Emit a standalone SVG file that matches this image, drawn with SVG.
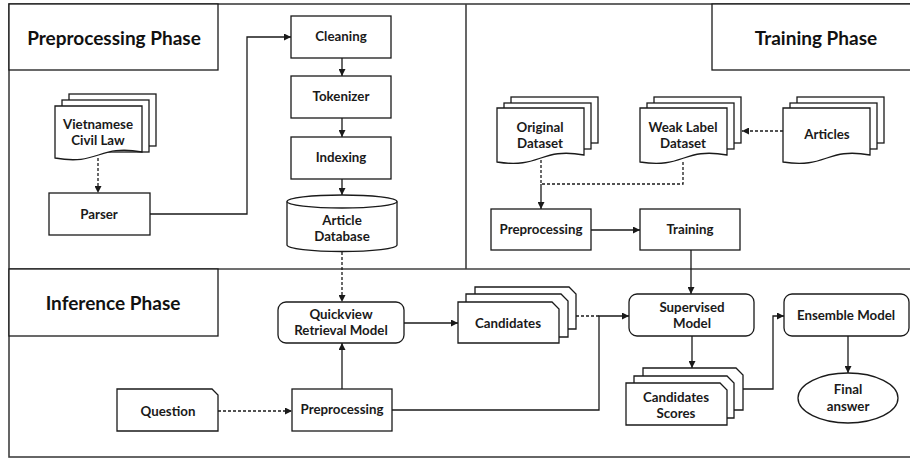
<svg xmlns="http://www.w3.org/2000/svg" width="910" height="459" viewBox="0 0 910 459">
<defs>
<marker id="ah" viewBox="0 0 10 10" refX="10" refY="5" markerWidth="7" markerHeight="7" markerUnits="userSpaceOnUse" orient="auto">
<path d="M0,0 L10,5 L0,10 Z" fill="#1a1a1a"/>
</marker>
<style>
.frame{fill:none;stroke:#404040;stroke-width:1.6}
.box{fill:#fff;stroke:#1a1a1a;stroke-width:1.3}
.t{font-family:Lato,"Open Sans",sans-serif;font-weight:700;font-size:13.3px;fill:#1a1a1a;text-anchor:middle}
.title{font-family:Lato,"Open Sans",sans-serif;font-weight:700;font-size:19px;fill:#111;text-anchor:middle}
.c{fill:none;stroke:#1a1a1a;stroke-width:1.3}
.d{fill:none;stroke:#1a1a1a;stroke-width:1.3;stroke-dasharray:3,2}
.a{marker-end:url(#ah)}
</style>
</defs>
<rect width="910" height="459" fill="#fff"/>
<g id="frames">
<rect class="frame" x="9" y="4" width="910" height="453"/>
<line class="frame" x1="9" y1="269" x2="910" y2="269"/>
<line class="frame" x1="466" y1="4" x2="466" y2="269"/>
</g>
<g id="title-preprocessing">
<rect class="box" x="9" y="4" width="209" height="66"/>
<text class="title" x="114" y="45">Preprocessing Phase</text>
</g>
<g id="title-training">
<rect class="box" x="712" y="4" width="210" height="66"/>
<text class="title" x="816" y="45">Training Phase</text>
</g>
<g id="title-inference">
<rect class="box" x="9" y="269" width="209" height="67"/>
<text class="title" x="113" y="310">Inference Phase</text>
</g>
<g id="connectors">
<path class="d a" d="M98,158 V193"/>
<path class="c a" d="M150,214 H247 V37 H291"/>
<path class="c a" d="M342,58 V76"/>
<path class="c a" d="M342,118 V137"/>
<path class="c a" d="M342,179 V195"/>
<path class="d a" d="M342,252 V302"/>
<path class="d a" d="M783,131 H742"/>
<path class="d" d="M541,160 V184 H683 V160"/>
<path class="c a" d="M541,184 V209"/>
<path class="c a" d="M591,230 H640"/>
<path class="c a" d="M691,250 V294"/>
<path class="c a" d="M404,323 H458"/>
<path class="d a" d="M218,411 H292"/>
<path class="c a" d="M342,389 V343"/>
<path class="c a" d="M392,410 H599 V316 H629"/>
<path class="d" d="M576,316 H599"/>
<path class="c a" d="M692,336 V368"/>
<path class="c a" d="M743,389 H773 V316 H784"/>
<path class="c a" d="M848,336 V373"/>
</g>
<g id="vietnamese-civil-law">
<rect class="box" x="69" y="94" width="87" height="52"/>
<rect class="box" x="62" y="100" width="87" height="52"/>
<path class="box" d="M55,106 H142 V152 C98,144 99,166 55,158 Z"/>
<text class="t" x="98" y="129">Vietnamese</text>
<text class="t" x="98" y="145">Civil Law</text>
</g>
<g id="parser">
<rect class="box" x="49" y="193" width="101" height="42"/>
<text class="t" x="99" y="219">Parser</text>
</g>
<g id="cleaning">
<rect class="box" x="291" y="16" width="100" height="42"/>
<text class="t" x="341" y="41">Cleaning</text>
</g>
<g id="tokenizer">
<rect class="box" x="291" y="76" width="100" height="42"/>
<text class="t" x="341" y="101">Tokenizer</text>
</g>
<g id="indexing">
<rect class="box" x="291" y="137" width="100" height="42"/>
<text class="t" x="341" y="162">Indexing</text>
</g>
<g id="article-database">
<path class="box" d="M287,201.5 V245 A55,6.5 0 0 0 397,245 V201.5"/>
<ellipse class="box" cx="342" cy="201.5" rx="55" ry="6.5"/>
<text class="t" x="342" y="225">Article</text>
<text class="t" x="342" y="241">Database</text>
</g>
<g id="original-dataset">
<rect class="box" x="511" y="97" width="87" height="46"/>
<rect class="box" x="504" y="103" width="87" height="46"/>
<path class="box" d="M497,108 H584 V155 C540,147 541,169 497,162 Z"/>
<text class="t" x="540" y="132">Original</text>
<text class="t" x="540" y="148">Dataset</text>
</g>
<g id="weak-label-dataset">
<rect class="box" x="654" y="97" width="87" height="46"/>
<rect class="box" x="647" y="103" width="87" height="46"/>
<path class="box" d="M640,108 H727 V155 C683,147 684,169 640,162 Z"/>
<text class="t" x="683" y="132">Weak Label</text>
<text class="t" x="683" y="148">Dataset</text>
</g>
<g id="articles">
<rect class="box" x="797" y="97" width="87" height="46"/>
<rect class="box" x="790" y="103" width="87" height="46"/>
<path class="box" d="M783,108 H870 V155 C826,147 827,169 783,162 Z"/>
<text class="t" x="827" y="139">Articles</text>
</g>
<g id="preprocessing-training">
<rect class="box" x="491" y="209" width="100" height="41"/>
<text class="t" x="541" y="234">Preprocessing</text>
</g>
<g id="training">
<rect class="box" x="640" y="209" width="100" height="41"/>
<text class="t" x="690" y="234">Training</text>
</g>
<g id="quickview-retrieval-model">
<rect class="box" x="278" y="302" width="126" height="41" rx="8"/>
<text class="t" x="341" y="319">Quickview</text>
<text class="t" x="341" y="335">Retrieval Model</text>
</g>
<g id="candidates">
<path class="box" d="M475,287 H569 L576,294 V329 H475 Z"/>
<path class="box" d="M466,294 H561 L568,301 V337 H466 Z"/>
<path class="box" d="M458,302 H552 L559,309 V343 H458 Z"/>
<text class="t" x="508" y="328">Candidates</text>
</g>
<g id="question">
<path class="box" d="M117,389 H212 L218,395 V431 H117 Z"/>
<text class="t" x="168" y="416">Question</text>
</g>
<g id="preprocessing-inference">
<rect class="box" x="292" y="389" width="100" height="42"/>
<text class="t" x="342" y="414">Preprocessing</text>
</g>
<g id="supervised-model">
<rect class="box" x="629" y="294" width="125" height="42" rx="8"/>
<text class="t" x="692" y="312">Supervised</text>
<text class="t" x="692" y="328">Model</text>
</g>
<g id="candidates-scores">
<path class="box" d="M643,368 H736 L743,375 V410 H643 Z"/>
<path class="box" d="M634,376 H727 L734,383 V418 H634 Z"/>
<path class="box" d="M626,383 H720 L727,390 V425 H626 Z"/>
<text class="t" x="676" y="402">Candidates</text>
<text class="t" x="676" y="418">Scores</text>
</g>
<g id="ensemble-model">
<rect class="box" x="784" y="294" width="125" height="42" rx="8"/>
<text class="t" x="846" y="320">Ensemble Model</text>
</g>
<g id="final-answer">
<ellipse class="box" cx="848" cy="398" rx="50" ry="25"/>
<text class="t" x="848" y="394">Final</text>
<text class="t" x="848" y="411">answer</text>
</g>
</svg>
